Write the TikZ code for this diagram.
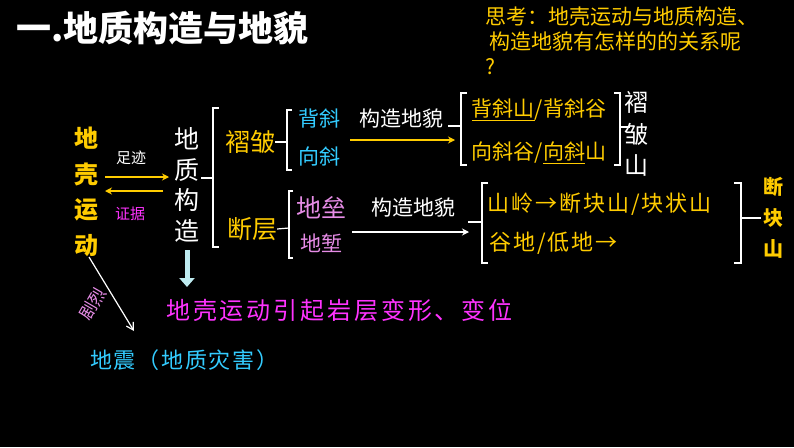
\documentclass[tikz,border=0pt]{standalone}
\usepackage{fontspec}
\setmainfont{Noto Sans CJK SC}
\usetikzlibrary{arrows.meta}
\definecolor{tyellow}{RGB}{255,204,0}
\definecolor{tcyan}{RGB}{51,204,255}
\definecolor{tmag}{RGB}{255,51,255}
\definecolor{tpink}{RGB}{230,140,230}
\definecolor{tice}{RGB}{190,235,240}
\tikzset{
  big/.style={font=\fontsize{25}{30}\selectfont, inner sep=0pt},
  mid/.style={font=\fontsize{21}{24}\selectfont, inner sep=0pt},
  small/.style={font=\fontsize{15}{17}\selectfont, inner sep=0pt},
  brk/.style={white, line width=1.2pt},
  arr/.style={line width=1.5pt, -{Stealth[length=7pt,width=7pt]}}
}
\begin{document}
\begin{tikzpicture}[x=1pt,y=-1pt]
  \fill[black] (0,0) rectangle (794,447);
  \useasboundingbox (0,0) rectangle (794,447);

  \node[anchor=west, white, font=\fontsize{35}{38}\selectfont\bfseries, inner sep=0pt] (title) at (16,28) {一.地质构造与地貌};
  \node[anchor=north west, tyellow, font=\fontsize{21}{25}\selectfont, inner sep=0pt, align=left] (think) at (485,7)
    {思考：地壳运动与地质构造、\\ \ 构造地貌有怎样的的关系呢\\ ?};

  % left column
  \node[big, tyellow, font=\fontsize{24}{35.5}\selectfont\bfseries, align=center] (crust) at (86,192) {地\\壳\\运\\动};
  \node[small, white] (trace) at (131,158) {足迹};
  \node[small, tmag] (proof) at (130,214) {证据};
  \coordinate (a1) at (105,177);
  \coordinate (a2) at (169,177);
  \coordinate (b1) at (163,191);
  \coordinate (b2) at (105,191);
  \draw[arr, tyellow] (a1) -- (a2);
  \draw[arr, tyellow] (b1) -- (b2);

  \node[big, white, font=\fontsize{25}{30.5}\selectfont, align=center] (struct) at (187,185) {地\\质\\构\\造};

  % main bracket
  \draw[brk] (219,108) -- (213,108) -- (213,247) -- (219,247);
  \draw[brk] (201,178) -- (213,178);

  \node[big, tyellow] (fold) at (250,142) {褶皱};
  \node[big, tyellow] (fault) at (252,229) {断层};
  \draw[brk] (292,110) -- (287,110) -- (287,170) -- (292,170);
  \draw[brk] (fold.east) -- (287,142);
  \draw[brk] (293,191) -- (289,191) -- (289,258) -- (293,258);
  \draw[brk] (fault.east) -- (289,228);

  \node[mid, tcyan] (anti) at (319,119) {背斜};
  \node[mid, tcyan] (syn) at (319,157) {向斜};
  \node[big, tpink] (horst) at (321,208) {地垒};
  \node[mid, tpink] (graben) at (321,243) {地堑};

  \node[mid, white] (land1) at (401,119) {构造地貌};
  \node[mid, white] (land2) at (413,208) {构造地貌};
  \coordinate (c1) at (350,140);
  \coordinate (c2) at (455,140);
  \coordinate (d1) at (352,232);
  \coordinate (d2) at (469,232);
  \draw[arr, tyellow] (c1) -- (c2);
  \draw[arr, white] (d1) -- (d2);

  % fold landforms
  \draw[brk] (467,93) -- (461,93) -- (461,165) -- (467,165);
  \draw[brk] (448,126) -- (461,126);
  \node[mid, tyellow] (fl1) at (539,110) {\underline{背斜山}/背斜谷};
  \node[mid, tyellow] (fl2) at (539,153) {向斜谷/\underline{向斜}山};
  \draw[brk] (614,93) -- (620,93) -- (620,165) -- (614,165);
  \draw[brk] (620,127) -- (630,127);
  \node[big, white, font=\fontsize{24}{31.5}\selectfont, align=center] (foldmt) at (636,134) {褶\\皱\\山};

  % fault landforms
  \draw[brk] (488,183) -- (482,183) -- (482,263) -- (488,263);
  \draw[brk] (468,222) -- (482,222);
  \node[mid, tyellow, anchor=west, font=\fontsize{22}{24}\selectfont\addfontfeatures{LetterSpace=9}] (ff1) at (487,204) {山岭→断块山/块状山};
  \node[mid, tyellow, anchor=west, font=\fontsize{22}{24}\selectfont\addfontfeatures{LetterSpace=9}] (ff2) at (489,243) {谷地/低地→};
  \draw[brk] (734,183) -- (741,183) -- (741,263) -- (734,263);
  \draw[brk] (741,218) -- (761,218);
  \node[mid, tyellow, font=\fontsize{20}{31}\selectfont\bfseries, align=center] (faultmt) at (773,218) {断\\块\\山};

  % bottom
  \coordinate (e1) at (187,250);
  \coordinate (e2) at (187,287);
  \draw[tice, line width=5pt, -{Triangle[length=9pt,width=15pt]}] (e1) -- (e2);
  \node[mid, tmag, anchor=west, font=\fontsize{24}{26}\selectfont\addfontfeatures{LetterSpace=12}] (cause) at (166,310) {地壳运动引起岩层变形、变位};
  \coordinate (f1) at (89,257);
  \coordinate (f2) at (134,331);
  \draw[white, line width=1.2pt, -{Straight Barb[length=7pt,width=8pt]}] (f1) -- (f2);
  \node[small, tpink, font=\fontsize{17}{18}\selectfont, rotate=60] (violent) at (93,304) {剧烈};
  \node[mid, tcyan, anchor=west, font=\fontsize{22}{24}\selectfont\addfontfeatures{LetterSpace=8}] (quake) at (90,360) {地震（地质灾害）};
\end{tikzpicture}
\end{document}
